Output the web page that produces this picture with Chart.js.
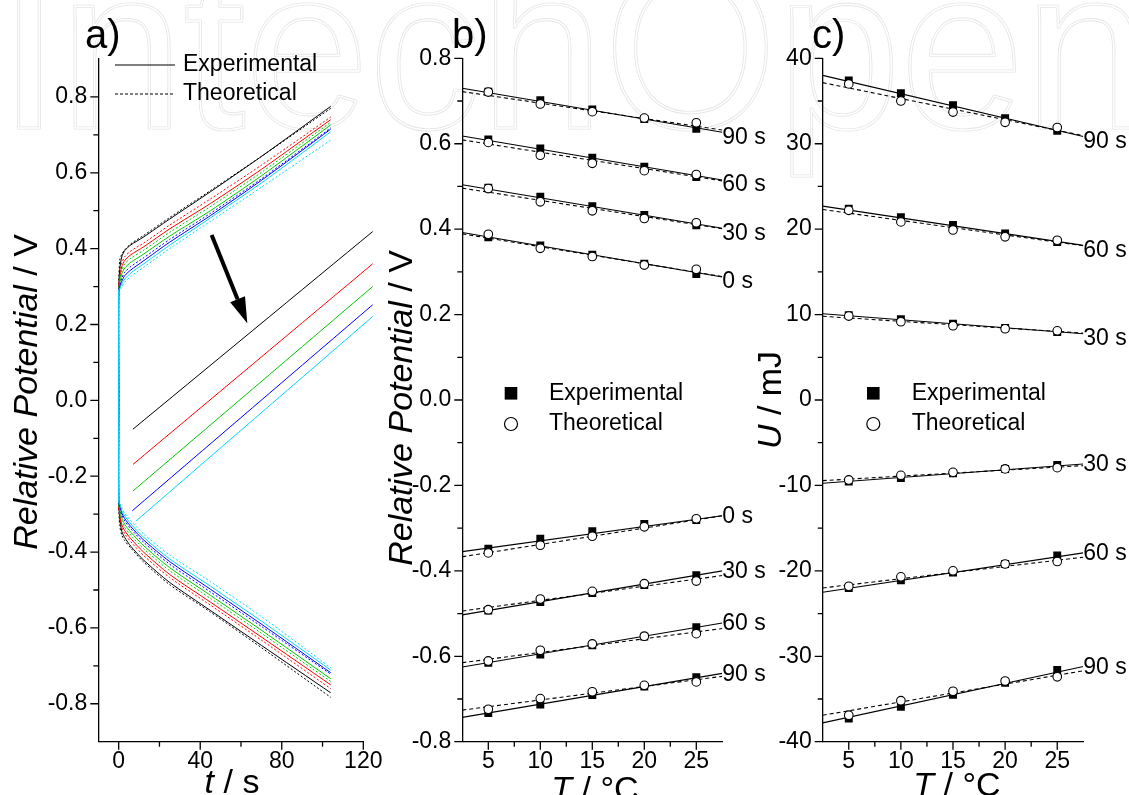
<!DOCTYPE html>
<html>
<head>
<meta charset="utf-8">
<title>Relative potential vs time and temperature</title>
<script src="https://cdn.jsdelivr.net/npm/chart.js@4.4.1/dist/chart.umd.min.js"></script>
<style>
  body { margin: 0; background: #ffffff; }
  #wrap { position: relative; width: 1129px; height: 795px; overflow: hidden; }
  canvas { position: absolute; left: 0; top: 0; }
</style>
</head>
<body>
<div id="wrap">
  <canvas id="panelA" width="1129" height="795"></canvas>
  <canvas id="panelB" width="1129" height="795"></canvas>
  <canvas id="panelC" width="1129" height="795"></canvas>
</div>
<script>
const FONT = "'Liberation Sans', Arial, Helvetica, sans-serif";

// ---- a) potential transients, curves in order black, red, green, blue, cyan ----
const aTime = [0, 0, 0.5, 1.5, 3, 6, 12, 25, 45, 70, 104];
const aUpExp = [
    [0, 0.29, 0.345, 0.378, 0.395, 0.410, 0.430, 0.478, 0.550, 0.643, 0.775],
    [0, 0.29, 0.322, 0.352, 0.369, 0.384, 0.404, 0.452, 0.519, 0.609, 0.740],
    [0, 0.29, 0.308, 0.333, 0.349, 0.364, 0.385, 0.433, 0.500, 0.592, 0.726],
    [0, 0.29, 0.298, 0.314, 0.329, 0.344, 0.367, 0.417, 0.487, 0.580, 0.715],
    [0, 0.29, 0.295, 0.307, 0.320, 0.336, 0.359, 0.409, 0.481, 0.573, 0.708]
];
const aUpTheo = [
    [0, 0.30, 0.370, 0.385, 0.397, 0.413, 0.434, 0.482, 0.553, 0.643, 0.770],
    [0, 0.29, 0.330, 0.362, 0.379, 0.394, 0.414, 0.462, 0.531, 0.620, 0.747],
    [0, 0.29, 0.315, 0.343, 0.360, 0.375, 0.395, 0.443, 0.511, 0.601, 0.733],
    [0, 0.29, 0.302, 0.322, 0.338, 0.353, 0.375, 0.424, 0.493, 0.584, 0.718],
    [0, 0.29, 0.293, 0.300, 0.312, 0.327, 0.350, 0.400, 0.472, 0.562, 0.686]
];
const aDownExp = [
    [0, -0.27, -0.310, -0.345, -0.362, -0.385, -0.420, -0.480, -0.554, -0.646, -0.771],
    [0, -0.27, -0.298, -0.327, -0.344, -0.365, -0.399, -0.459, -0.532, -0.624, -0.750],
    [0, -0.27, -0.286, -0.310, -0.327, -0.348, -0.382, -0.441, -0.514, -0.606, -0.734],
    [0, -0.27, -0.276, -0.296, -0.312, -0.333, -0.367, -0.425, -0.498, -0.590, -0.718],
    [0, -0.27, -0.273, -0.290, -0.305, -0.326, -0.360, -0.418, -0.490, -0.582, -0.711]
];
const aDownTheo = [
    [0, -0.27, -0.330, -0.355, -0.370, -0.390, -0.425, -0.486, -0.558, -0.652, -0.783],
    [0, -0.27, -0.305, -0.335, -0.352, -0.373, -0.408, -0.467, -0.540, -0.632, -0.760],
    [0, -0.27, -0.292, -0.318, -0.335, -0.356, -0.390, -0.449, -0.522, -0.614, -0.741],
    [0, -0.27, -0.280, -0.302, -0.318, -0.339, -0.373, -0.432, -0.505, -0.596, -0.722],
    [0, -0.27, -0.271, -0.284, -0.298, -0.318, -0.351, -0.408, -0.478, -0.570, -0.705]
];
// straight lines in the middle of panel a
const aLineT0 = [7.0, 7.0, 7.0, 6.7, 8.5];
const aLineT1 = [124.6, 124.6, 124.6, 124.6, 124.6];
const aLineV0 = [-0.076, -0.169, -0.239, -0.291, -0.318];
const aLineV1 = [0.445, 0.360, 0.300, 0.252, 0.221];
const aXTicks = [0, 20, 40, 60, 80, 100, 120];
const aYTicks = [-0.8, -0.7, -0.6, -0.5, -0.4, -0.3, -0.2, -0.1, 0, 0.1, 0.2, 0.3, 0.4, 0.5, 0.6, 0.7, 0.8];

// ---- b) relative potential vs temperature ----
const bTemps = [5, 10, 15, 20, 25];
const bFitT = [2.5, 27.5];
const bLabelsUp = ['90 s', '60 s', '30 s', '0 s'];
const bExpUp = [
    [0.722, 0.702, 0.680, 0.658, 0.635],
    [0.610, 0.589, 0.567, 0.546, 0.522],
    [0.497, 0.476, 0.454, 0.433, 0.409],
    [0.381, 0.362, 0.340, 0.319, 0.295]
];
const bTheoUp = [
    [0.721, 0.693, 0.675, 0.660, 0.649],
    [0.603, 0.573, 0.554, 0.537, 0.528],
    [0.495, 0.464, 0.443, 0.425, 0.415],
    [0.388, 0.355, 0.336, 0.316, 0.306]
];
const bExpFitUp = [[0.730, 0.627], [0.618, 0.515], [0.504, 0.402], [0.392, 0.288]];
const bTheoFitUp = [[0.722, 0.632], [0.609, 0.513], [0.496, 0.401], [0.389, 0.289]];
const bLabelsDown = ['0 s', '30 s', '60 s', '90 s'];
const bExpDown = [
    [-0.348, -0.325, -0.307, -0.290, -0.281],
    [-0.493, -0.473, -0.452, -0.433, -0.410],
    [-0.615, -0.596, -0.574, -0.554, -0.532],
    [-0.733, -0.713, -0.691, -0.671, -0.649]
];
const bTheoDown = [
    [-0.358, -0.340, -0.319, -0.297, -0.278],
    [-0.491, -0.466, -0.448, -0.430, -0.424],
    [-0.611, -0.586, -0.571, -0.553, -0.547],
    [-0.724, -0.699, -0.683, -0.668, -0.660]
];
const bExpFitDown = [[-0.355, -0.271], [-0.503, -0.400], [-0.625, -0.522], [-0.743, -0.640]];
const bTheoFitDown = [[-0.367, -0.271], [-0.494, -0.411], [-0.615, -0.535], [-0.726, -0.647]];
const bXTicks = [5, 7.5, 10, 12.5, 15, 17.5, 20, 22.5, 25];
const bYTicks = aYTicks;

// ---- c) energy vs temperature ----
const cLabelsUp = ['90 s', '60 s', '30 s'];
const cExpUp = [
    [37.4, 35.9, 34.5, 33.0, 31.5],
    [22.4, 21.4, 20.5, 19.5, 18.5],
    [9.94, 9.47, 8.92, 8.42, 7.95]
];
const cTheoUp = [
    [37.0, 35.0, 33.7, 32.5, 31.9],
    [22.2, 20.85, 19.9, 19.1, 18.7],
    [9.82, 9.16, 8.69, 8.34, 8.10]
];
const cExpFitUp = [[38.0, 30.85], [22.7, 18.1], [10.1, 7.75]];
const cTheoFitUp = [[37.15, 30.95], [22.3, 18.05], [9.8, 7.83]];
const cLabelsDown = ['30 s', '60 s', '90 s'];
const cExpDown = [
    [-9.55, -9.13, -8.58, -8.07, -7.60],
    [-22.0, -21.1, -20.2, -19.2, -18.2],
    [-37.3, -35.9, -34.5, -33.1, -31.6]
];
const cTheoDown = [
    [-9.36, -8.82, -8.47, -8.07, -7.92],
    [-21.8, -20.7, -20.0, -19.2, -18.9],
    [-36.9, -35.2, -34.1, -32.9, -32.4]
];
const cExpFitDown = [[-9.75, -7.49], [-22.5, -17.9], [-37.8, -31.2]];
const cTheoFitDown = [[-9.44, -7.68], [-22.0, -18.4], [-36.9, -31.7]];
const cYTicks = [-40, -35, -30, -25, -20, -15, -10, -5, 0, 5, 10, 15, 20, 25, 30, 35, 40];

// styles
const aColors = ['#000000', '#ff0000', '#00c800', '#0000ff', '#00d8ff'];
const TICK_SIZE = 23;

function pts(xs, ys) {
    return xs.map((x, i) => ({x: x, y: ys[i]}));
}

function axis(min, max, ticks, fmt, size, isY) {
    return {
        type: 'linear',
        min: min,
        max: max,
        grid: {display: false, drawTicks: false},
        border: {display: true, color: '#000', width: 1.3},
        afterBuildTicks: s => { s.ticks = ticks.map(v => ({value: v})); },
        afterFit: s => { if (isY) s.width = size; else s.height = size; },
        ticks: {
            autoSkip: false, maxRotation: 0, minRotation: 0,
            padding: isY ? 11 : 6,
            color: '#000',
            font: {family: FONT, size: TICK_SIZE},
            callback: fmt
        }
    };
}

// major and minor tick marks drawn by hand (Chart.js has one tick length)
const tickMarks = {
    id: 'tickMarks',
    afterDraw(chart) {
        const ctx = chart.ctx;
        const xs = chart.scales.x, ys = chart.scales.y;
        ctx.save();
        ctx.strokeStyle = '#000';
        ctx.lineWidth = 1.3;
        ctx.beginPath();
        xs.ticks.forEach(t => {
            const p = xs.getPixelForValue(t.value);
            ctx.moveTo(p, xs.top);
            ctx.lineTo(p, xs.top + (t.label ? 8 : 5));
        });
        ys.ticks.forEach(t => {
            const p = ys.getPixelForValue(t.value);
            ctx.moveTo(ys.right, p);
            ctx.lineTo(ys.right - (t.label ? 8 : 5), p);
        });
        ctx.stroke();
        ctx.restore();
    }
};

function richText(ctx, parts, x, y, angle) {
    ctx.save();
    ctx.translate(x, y);
    ctx.rotate(angle);
    let total = 0;
    parts.forEach(p => { ctx.font = p.font; p.w = ctx.measureText(p.text).width; total += p.w; });
    let cx = -total / 2;
    ctx.fillStyle = '#000';
    ctx.textAlign = 'left';
    ctx.textBaseline = 'alphabetic';
    parts.forEach(p => { ctx.font = p.font; ctx.fillText(p.text, cx, 0); cx += p.w; });
    ctx.restore();
}

const it = `italic 34px ${FONT}`;
const rm = `34px ${FONT}`;

function plainText(ctx, text, x, y, size) {
    ctx.save();
    ctx.fillStyle = '#000';
    ctx.font = `${size}px ${FONT}`;
    ctx.textAlign = 'left';
    ctx.textBaseline = 'middle';
    ctx.fillText(text, x, y);
    ctx.restore();
}

function panelLetter(ctx, text, x) {
    ctx.save();
    ctx.font = `40px ${FONT}`;
    ctx.fillStyle = '#000';
    ctx.fillText(text, x, 48);
    ctx.restore();
}

function symbolLegend(ctx, x, textX, y1, y2) {
    ctx.save();
    ctx.fillStyle = '#000';
    ctx.fillRect(x - 6.3, y1 - 6.3, 12.6, 12.6);
    ctx.beginPath();
    ctx.arc(x, y2, 6.5, 0, Math.PI * 2);
    ctx.fillStyle = '#fff';
    ctx.fill();
    ctx.lineWidth = 1.2;
    ctx.strokeStyle = '#000';
    ctx.stroke();
    ctx.restore();
    plainText(ctx, 'Experimental', textX, y1, TICK_SIZE);
    plainText(ctx, 'Theoretical', textX, y2, TICK_SIZE);
}

function fitLabels(chart, labels, fits) {
    const xs = chart.scales.x, ys = chart.scales.y;
    labels.forEach((lab, i) => {
        const f = fits[i];
        const y = ys.getPixelForValue(f[1]) + (f[1] < f[0] ? 5 : 1);
        plainText(chart.ctx, lab, xs.right, y, TICK_SIZE);
    });
}

// ---------- panel a ----------
const aDatasets = [];
for (let i = aColors.length - 1; i >= 0; i--) {
    const c = aColors[i];
    aDatasets.push(
        {data: pts(aTime, aUpExp[i]), borderColor: c},
        {data: pts(aTime, aUpTheo[i]), borderColor: c, borderDash: [2, 2]},
        {data: pts(aTime, aDownExp[i]), borderColor: c},
        {data: pts(aTime, aDownTheo[i]), borderColor: c, borderDash: [2, 2]},
        {data: [{x: aLineT0[i], y: aLineV0[i]}, {x: aLineT1[i], y: aLineV1[i]}], borderColor: c, clip: false}
    );
}

const decorA = {
    id: 'decorA',
    beforeDraw(chart) {
        // faint outlined publisher watermark behind everything
        const ctx = chart.ctx;
        ctx.save();
        ctx.font = `230px ${FONT}`;
        const w = ctx.measureText('IntechOpen').width;
        ctx.translate(-2, 128);
        ctx.scale(1150 / w, 1);
        ctx.lineJoin = 'round';
        ctx.strokeStyle = '#e6e6e6';
        ctx.lineWidth = 3.2;
        ctx.strokeText('IntechOpen', 0, 0);
        ctx.strokeStyle = '#ffffff';
        ctx.lineWidth = 1.4;
        ctx.strokeText('IntechOpen', 0, 0);
        ctx.restore();
    },
    afterDraw(chart) {
        const ctx = chart.ctx;
        const xs = chart.scales.x, ys = chart.scales.y;
        // arrow
        const x0 = xs.getPixelForValue(45.6), y0 = ys.getPixelForValue(0.436);
        const x1 = xs.getPixelForValue(63.1), y1 = ys.getPixelForValue(0.203);
        const ang = Math.atan2(y1 - y0, x1 - x0);
        const head = 26, half = 8;
        const bx = x1 - head * Math.cos(ang), by = y1 - head * Math.sin(ang);
        ctx.save();
        ctx.strokeStyle = '#000';
        ctx.lineWidth = 4;
        ctx.beginPath();
        ctx.moveTo(x0, y0);
        ctx.lineTo(bx, by);
        ctx.stroke();
        ctx.beginPath();
        ctx.moveTo(x1, y1);
        ctx.lineTo(bx + half * Math.sin(ang), by - half * Math.cos(ang));
        ctx.lineTo(bx - half * Math.sin(ang), by + half * Math.cos(ang));
        ctx.closePath();
        ctx.fillStyle = '#000';
        ctx.fill();
        // legend
        ctx.lineWidth = 1.2;
        ctx.beginPath();
        ctx.moveTo(115, 65);
        ctx.lineTo(175, 65);
        ctx.stroke();
        ctx.setLineDash([3, 2]);
        ctx.beginPath();
        ctx.moveTo(115, 94);
        ctx.lineTo(175, 94);
        ctx.stroke();
        ctx.restore();
        plainText(ctx, 'Experimental', 183, 65, TICK_SIZE);
        plainText(ctx, 'Theoretical', 183, 94, TICK_SIZE);
        panelLetter(ctx, 'a)', 85);
        richText(ctx, [{text: 'Relative Potential', font: it}, {text: ' / V', font: rm}], 37, 392, -Math.PI / 2);
        richText(ctx, [{text: 't', font: it}, {text: ' / s', font: rm}], 232, 793, 0);
    }
};

new Chart(document.getElementById('panelA'), {
    type: 'line',
    data: {datasets: aDatasets},
    options: {
        responsive: false,
        animation: false,
        events: [],
        layout: {padding: {left: 98.3 - 60, top: 59, right: 1129 - 363.3, bottom: 795 - 741.7 - 40}},
        elements: {
            line: {borderWidth: 1, tension: 0.25, fill: false},
            point: {radius: 0}
        },
        scales: {
            x: axis(-10, 120, aXTicks, v => (v % 40 === 0 ? String(v) : ''), 40, false),
            y: axis(-0.9, 0.9, aYTicks, v => (Math.round(v * 10) % 2 === 0 ? v.toFixed(1) : ''), 60, true)
        },
        plugins: {legend: {display: false}, tooltip: {enabled: false}}
    },
    plugins: [tickMarks, decorA]
});

// ---------- panels b and c ----------
function tempDatasets(temps, fitT, exp, theo, expFit, theoFit) {
    const sets = [];
    exp.forEach((row, i) => {
        sets.push({data: pts(temps, theo[i]), showLine: false, pointStyle: 'circle', pointRadius: 4.3,
            pointBackgroundColor: '#fff', pointBorderColor: '#000', pointBorderWidth: 1.1, order: 0});
        sets.push({data: pts(temps, row), showLine: false, pointStyle: 'rect', pointRadius: 5.6,
            pointBackgroundColor: '#000', pointBorderColor: '#000', pointBorderWidth: 0, order: 1});
        sets.push({data: pts(fitT, expFit[i]), showLine: true, borderColor: '#000', borderWidth: 1.1,
            pointRadius: 0, order: 2});
        sets.push({data: pts(fitT, theoFit[i]), showLine: true, borderColor: '#000', borderWidth: 1.1,
            borderDash: [4, 3], pointRadius: 0, order: 2});
    });
    return sets;
}

function tempChart(id, left, right, yMin, yMax, yTicks, yFmt, datasets, decor) {
    return new Chart(document.getElementById(id), {
        type: 'scatter',
        data: {datasets: datasets},
        options: {
            responsive: false,
            animation: false,
            events: [],
            layout: {padding: {left: left - 60, top: 58.3, right: 1129 - right, bottom: 795 - 741.7 - 40}},
            scales: {
                x: axis(2.5, 27.5, bXTicks, v => (Number.isInteger(v) ? String(v) : ''), 40, false),
                y: axis(yMin, yMax, yTicks, yFmt, 60, true)
            },
            plugins: {legend: {display: false}, tooltip: {enabled: false}}
        },
        plugins: [tickMarks, decor]
    });
}

const decorB = {
    id: 'decorB',
    afterDraw(chart) {
        const ctx = chart.ctx;
        fitLabels(chart, bLabelsUp, bExpFitUp);
        fitLabels(chart, bLabelsDown, bExpFitDown);
        symbolLegend(ctx, 511, 549, 393.3, 424);
        panelLetter(ctx, 'b)', 452);
        richText(ctx, [{text: 'Relative Potential', font: it}, {text: ' / V', font: rm}], 412, 408, -Math.PI / 2);
        richText(ctx, [{text: 'T', font: it}, {text: ' / \u00B0C', font: rm}], 595, 800, 0);
    }
};

const decorC = {
    id: 'decorC',
    afterDraw(chart) {
        const ctx = chart.ctx;
        fitLabels(chart, cLabelsUp, cExpFitUp);
        fitLabels(chart, cLabelsDown, cExpFitDown);
        symbolLegend(ctx, 873.3, 911.7, 393.3, 424);
        panelLetter(ctx, 'c)', 812);
        richText(ctx, [{text: 'U', font: it}, {text: ' / mJ', font: rm}], 781, 400, -Math.PI / 2);
        richText(ctx, [{text: 'T', font: it}, {text: ' / \u00B0C', font: rm}], 957, 796, 0);
    }
};

const bDatasets = tempDatasets(bTemps, bFitT, bExpUp, bTheoUp, bExpFitUp, bTheoFitUp)
    .concat(tempDatasets(bTemps, bFitT, bExpDown, bTheoDown, bExpFitDown, bTheoFitDown));
const cDatasets = tempDatasets(bTemps, bFitT, cExpUp, cTheoUp, cExpFitUp, cTheoFitUp)
    .concat(tempDatasets(bTemps, bFitT, cExpDown, cTheoDown, cExpFitDown, cTheoFitDown));

tempChart('panelB', 462.3, 722.3, -0.8, 0.8, bYTicks,
    v => (Math.round(v * 10) % 2 === 0 ? v.toFixed(1) : ''), bDatasets, decorB);
tempChart('panelC', 822.7, 1083.3, -40, 40, cYTicks,
    v => (v % 10 === 0 ? String(v) : ''), cDatasets, decorC);
</script>
</body>
</html>
